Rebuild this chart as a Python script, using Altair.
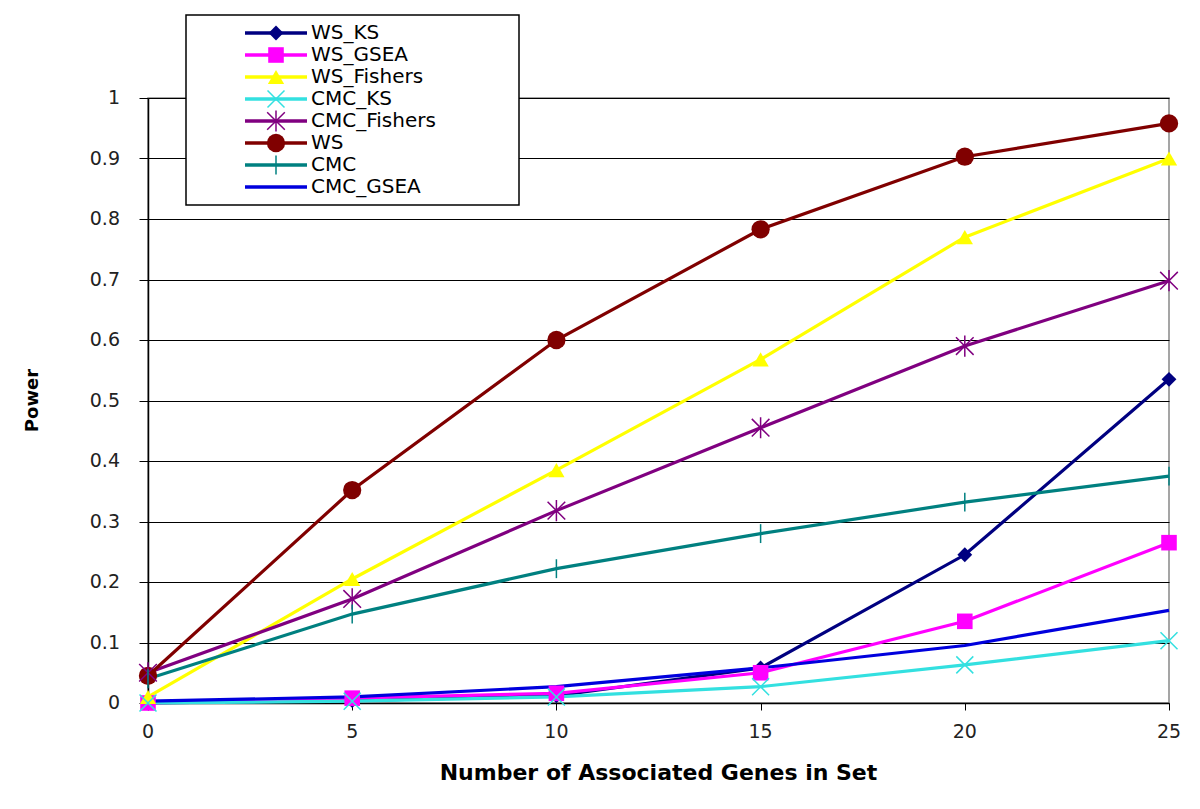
import altair as alt
import pandas as pd

# ---- data ----
x_vals = [0, 5, 10, 15, 20, 25]
series_names = ["WS_KS", "WS_GSEA", "WS_Fishers", "CMC_KS", "CMC_Fishers", "WS", "CMC", "CMC_GSEA"]
ws_ks = [0.0, 0.004, 0.012, 0.058, 0.245, 0.535]
ws_gsea = [0.0, 0.008, 0.016, 0.050, 0.135, 0.265]
ws_fishers = [0.01, 0.205, 0.385, 0.568, 0.770, 0.900]
cmc_ks = [0.0, 0.003, 0.010, 0.027, 0.063, 0.103]
cmc_fishers = [0.050, 0.172, 0.318, 0.455, 0.590, 0.698]
ws = [0.045, 0.352, 0.600, 0.783, 0.903, 0.958]
cmc = [0.040, 0.147, 0.222, 0.280, 0.332, 0.375]
cmc_gsea = [0.003, 0.010, 0.027, 0.058, 0.095, 0.153]
x_ticks = [0, 5, 10, 15, 20, 25]
y_ticks = [0, 0.1, 0.2, 0.3, 0.4, 0.5, 0.6, 0.7, 0.8, 0.9, 1.0]

colors = ["#000080", "#FF00FF", "#FFFF00", "#33E0E0", "#800080", "#800000", "#008080", "#0000DD"]
X_PATH = "M-1,-1L1,1M-1,1L1,-1"
STAR_PATH = "M-1,-1L1,1M-1,1L1,-1M0,-1.2L0,1.2"
PLUS_PATH = "M0,-1L0,1"
shapes = ["diamond", "square", "triangle-up", X_PATH, STAR_PATH, "circle", PLUS_PATH, "circle"]
sizes = [220, 380, 330, 120, 120, 380, 260, 0]
filled_series = ["WS_KS", "WS_GSEA", "WS_Fishers", "WS"]
stroked_series = ["CMC_KS", "CMC_Fishers", "CMC"]

values = [ws_ks, ws_gsea, ws_fishers, cmc_ks, cmc_fishers, ws, cmc, cmc_gsea]
rows = []
for name, vals in zip(series_names, values):
    for xv, yv in zip(x_vals, vals):
        rows.append({"series": name, "x": xv, "power": yv})
df = pd.DataFrame(rows)
legend_df = pd.DataFrame({"series": series_names, "row": list(range(len(series_names)))})
xt_df = pd.DataFrame({"v": x_ticks, "label": [str(v) for v in x_ticks]})
yt_df = pd.DataFrame({"v": y_ticks, "label": [("%g" % v) for v in y_ticks]})

W, H = 1021, 605
FONT = "DejaVu Sans"

color_scale = alt.Scale(domain=series_names, range=colors)
shape_scale = alt.Scale(domain=series_names, range=shapes)
size_scale = alt.Scale(domain=series_names, range=sizes)
xs = alt.Scale(domain=[0, 25], nice=False, zero=False)
ys = alt.Scale(domain=[0, 1], nice=False)

base = alt.Chart(df)
lines = base.mark_line(strokeWidth=3.2).encode(
    x=alt.X("x:Q", scale=xs,
            axis=alt.Axis(values=x_ticks, labels=False, title=None, grid=False,
                          tickSize=7, tickColor="black", domainColor="black", domainWidth=1.5)),
    y=alt.Y("power:Q", scale=ys,
            axis=alt.Axis(values=y_ticks, labels=False, title=None, grid=True,
                          gridColor="black", gridWidth=1, gridOpacity=1,
                          tickSize=9, tickColor="black", domainColor="black", domainWidth=1.5)),
    color=alt.Color("series:N", scale=color_scale, legend=None),
    detail="series:N",
    order=alt.Order("x:Q"),
)

enc_pts = dict(
    x=alt.X("x:Q", scale=xs),
    y=alt.Y("power:Q", scale=ys),
    color=alt.Color("series:N", scale=color_scale, legend=None),
    shape=alt.Shape("series:N", scale=shape_scale, legend=None),
    size=alt.Size("series:N", scale=size_scale, legend=None),
)
pts_filled = base.transform_filter(
    alt.FieldOneOfPredicate(field="series", oneOf=filled_series)
).mark_point(filled=True, opacity=1).encode(**enc_pts)
pts_stroked = base.transform_filter(
    alt.FieldOneOfPredicate(field="series", oneOf=stroked_series)
).mark_point(filled=False, opacity=1, strokeWidth=1.5).encode(**enc_pts)

xlabels = alt.Chart(xt_df).mark_text(
    font=FONT, fontSize=19, baseline="middle", align="center", color="#222"
).encode(x=alt.X("v:Q", scale=xs), y=alt.value(H + 29), text="label:N")
ylabels = alt.Chart(yt_df).mark_text(
    font=FONT, fontSize=19, baseline="middle", align="right", color="#222"
).encode(x=alt.value(-28), y=alt.Y("v:Q", scale=ys), text="label:N")

title_df = pd.DataFrame({"t": ["Number of Associated Genes in Set"]})
xtitle = alt.Chart(title_df).mark_text(
    font=FONT, fontSize=22, fontWeight="bold", align="center", baseline="middle", color="black"
).encode(x=alt.value(W / 2), y=alt.value(H + 70), text="t:N")
ytitle_df = pd.DataFrame({"t": ["Power"]})
ytitle = alt.Chart(ytitle_df).mark_text(
    font=FONT, fontSize=18, fontWeight="bold", angle=270, align="center", baseline="middle", color="black"
).encode(x=alt.value(-115), y=alt.value(H / 2), text="t:N")

main = alt.layer(lines, pts_filled, pts_stroked, xlabels, ylabels, xtitle, ytitle)

# ---- manual legend box ----
ly = alt.Scale(domain=[0, 7], range=[-65, 89])
lbase = alt.Chart(legend_df)
box = alt.Chart(pd.DataFrame({"a": [0]})).mark_rect(
    fill="white", stroke="black", strokeWidth=1.5
).encode(x=alt.value(38), x2=alt.value(371), y=alt.value(-83), y2=alt.value(107))
lrules = lbase.mark_rule(strokeWidth=3.5).encode(
    x=alt.value(97), x2=alt.value(159),
    y=alt.Y("row:Q", scale=ly, axis=None),
    color=alt.Color("series:N", scale=color_scale, legend=None),
)
lenc = dict(
    x=alt.value(128),
    y=alt.Y("row:Q", scale=ly, axis=None),
    color=alt.Color("series:N", scale=color_scale, legend=None),
    shape=alt.Shape("series:N", scale=shape_scale, legend=None),
    size=alt.Size("series:N", scale=size_scale, legend=None),
)
lpts_f = lbase.transform_filter(
    alt.FieldOneOfPredicate(field="series", oneOf=filled_series)
).mark_point(filled=True, opacity=1).encode(**lenc)
lpts_s = lbase.transform_filter(
    alt.FieldOneOfPredicate(field="series", oneOf=stroked_series)
).mark_point(filled=False, opacity=1, strokeWidth=1.5).encode(**lenc)
ltext = lbase.mark_text(
    font=FONT, fontSize=20, align="left", baseline="middle", color="black"
).encode(x=alt.value(163), y=alt.Y("row:Q", scale=ly, axis=None), text="series:N")

legend = alt.layer(box, lrules, lpts_f, lpts_s, ltext)

chart = alt.layer(main, legend).resolve_scale(y="independent").properties(
    width=W, height=H,
    padding={"left": 140, "top": 90, "right": 20, "bottom": 88},
    autosize=alt.AutoSizeParams(type="none"),
    background="white",
).configure_view(stroke="#888888", strokeWidth=1.5)

chart.save("out.html", embed_options={"renderer": "svg", "actions": False})
